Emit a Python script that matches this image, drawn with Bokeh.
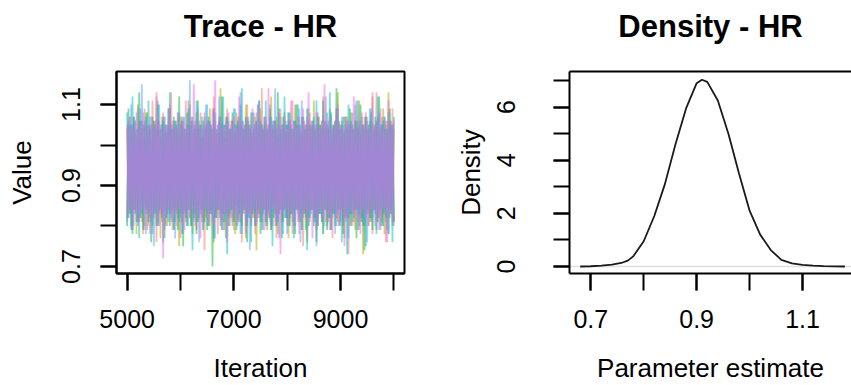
from bokeh.plotting import figure
from bokeh.layouts import row
from bokeh.models import FixedTicker, LinearAxis, Span, Range1d, Title
from bokeh.embed import file_html
from bokeh.resources import INLINE

# ---------------- data ----------------
iterations = list(range(5000, 10001, 25))

chain_1 = [
    0.82, 1.05, 0.84, 1.03, 0.79, 1.07, 0.83, 1.02, 0.81, 1.06, 0.85, 1.04, 0.78, 1.09, 0.83, 1.03, 0.80, 1.05, 0.84, 1.11,
    0.82, 1.04, 0.76, 1.06, 0.83, 1.02, 0.81, 1.08, 0.85, 1.03, 0.80, 1.05, 0.83, 1.13, 0.79, 1.04, 0.84, 1.06, 0.82, 1.02,
    0.77, 1.07, 0.83, 1.04, 0.81, 1.05, 0.84, 1.10, 0.80, 1.03, 0.82, 1.06, 0.79, 1.04, 0.85, 1.08, 0.81, 1.02, 0.74, 1.05,
    0.83, 1.06, 0.80, 1.04, 0.84, 1.12, 0.82, 1.03, 0.78, 1.07, 0.83, 1.05, 0.81, 1.02, 0.84, 1.09, 0.80, 1.04, 0.82, 1.06,
    0.79, 1.03, 0.85, 1.07, 0.81, 1.05, 0.76, 1.04, 0.83, 1.10, 0.80, 1.06, 0.84, 1.03, 0.82, 1.05, 0.78, 1.08, 0.83, 1.04,
    0.81, 1.14, 0.84, 1.05, 0.80, 1.03, 0.82, 1.07, 0.79, 1.04, 0.85, 1.06, 0.77, 1.02, 0.83, 1.09, 0.81, 1.05, 0.84, 1.03,
    0.80, 1.06, 0.82, 1.11, 0.78, 1.04, 0.84, 1.05, 0.81, 1.07, 0.83, 1.03, 0.75, 1.06, 0.82, 1.04, 0.80, 1.08, 0.84, 1.05,
    0.82, 1.03, 0.79, 1.07, 0.83, 1.05, 0.81, 1.12, 0.84, 1.04, 0.80, 1.06, 0.82, 1.02, 0.77, 1.05, 0.83, 1.09, 0.81, 1.04,
    0.84, 1.06, 0.80, 1.03, 0.82, 1.07, 0.73, 1.05, 0.83, 1.04, 0.81, 1.10, 0.84, 1.06, 0.79, 1.03, 0.82, 1.05, 0.80, 1.08,
    0.83, 1.04, 0.81, 1.06, 0.78, 1.05, 0.84, 1.13, 0.82, 1.03, 0.80, 1.07, 0.83, 1.04, 0.76, 1.06, 0.82, 1.05, 0.84, 1.09,
    0.81]

chain_2 = [
    1.04, 0.83, 1.07, 0.80, 1.05, 0.84, 1.03, 0.78, 1.10, 0.82, 1.06, 0.81, 1.04, 0.85, 1.08, 0.79, 1.05, 0.83, 1.02, 0.80,
    1.06, 0.84, 1.12, 0.81, 1.04, 0.77, 1.07, 0.83, 1.05, 0.80, 1.03, 0.84, 1.09, 0.82, 1.05, 0.79, 1.06, 0.83, 1.04, 0.75,
    1.07, 0.81, 1.05, 0.84, 1.03, 0.80, 1.11, 0.82, 1.06, 0.78, 1.04, 0.83, 1.08, 0.81, 1.05, 0.84, 1.02, 0.79, 1.07, 0.82,
    1.05, 0.80, 1.09, 0.83, 1.04, 0.76, 1.06, 0.82, 1.03, 0.84, 1.14, 0.81, 1.05, 0.79, 1.07, 0.83, 1.04, 0.80, 1.06, 0.84,
    1.03, 0.78, 1.08, 0.82, 1.05, 0.81, 1.06, 0.84, 1.04, 0.77, 1.10, 0.83, 1.05, 0.80, 1.03, 0.82, 1.07, 0.74, 1.05, 0.83,
    1.09, 0.81, 1.04, 0.84, 1.06, 0.79, 1.05, 0.82, 1.12, 0.80, 1.04, 0.83, 1.07, 0.78, 1.05, 0.84, 1.03, 0.81, 1.08, 0.82,
    1.05, 0.77, 1.06, 0.83, 1.04, 0.80, 1.10, 0.84, 1.05, 0.82, 1.03, 0.79, 1.07, 0.83, 1.05, 0.76, 1.06, 0.81, 1.04, 0.84,
    1.11, 0.82, 1.05, 0.80, 1.07, 0.83, 1.04, 0.78, 1.06, 0.84, 1.05, 0.81, 1.09, 0.79, 1.04, 0.83, 1.06, 0.82, 1.13, 0.80,
    1.05, 0.84, 1.03, 0.77, 1.07, 0.82, 1.05, 0.80, 1.08, 0.83, 1.04, 0.79, 1.06, 0.84, 1.11, 0.81, 1.05, 0.73, 1.07, 0.83,
    1.04, 0.80, 1.06, 0.82, 1.12, 0.84, 1.05, 0.79, 1.07, 0.83, 1.04, 0.81, 1.09, 0.78, 1.05, 0.84, 1.13, 0.82, 1.06, 0.80,
    1.04]

chain_3 = [
    0.80, 1.09, 0.83, 1.05, 0.78, 1.07, 0.84, 1.04, 0.81, 1.13, 0.82, 1.06, 0.79, 1.05, 0.84, 1.08, 0.81, 1.04, 0.76, 1.07,
    0.83, 1.05, 0.80, 1.10, 0.84, 1.04, 0.82, 1.06, 0.77, 1.05, 0.83, 1.09, 0.80, 1.04, 0.84, 1.07, 0.81, 1.05, 0.79, 1.12,
    0.83, 1.06, 0.75, 1.04, 0.82, 1.08, 0.84, 1.05, 0.80, 1.07, 0.83, 1.04, 0.78, 1.11, 0.82, 1.05, 0.84, 1.06, 0.81, 1.04,
    0.79, 1.07, 0.83, 1.05, 0.70, 1.09, 0.82, 1.04, 0.84, 1.06, 0.80, 1.12, 0.83, 1.05, 0.77, 1.07, 0.82, 1.04, 0.84, 1.08,
    0.81, 1.05, 0.79, 1.06, 0.83, 1.10, 0.80, 1.04, 0.84, 1.07, 0.76, 1.05, 0.82, 1.08, 0.83, 1.04, 0.80, 1.06, 0.84, 1.11,
    0.78, 1.05, 0.83, 1.07, 0.81, 1.04, 0.84, 1.09, 0.79, 1.05, 0.82, 1.06, 0.80, 1.13, 0.83, 1.04, 0.77, 1.07, 0.84, 1.05,
    0.82, 1.08, 0.80, 1.04, 0.83, 1.06, 0.78, 1.10, 0.84, 1.05, 0.81, 1.07, 0.83, 1.04, 0.79, 1.09, 0.82, 1.05, 0.84, 1.06,
    0.80, 1.04, 0.76, 1.07, 0.83, 1.05, 0.81, 1.11, 0.84, 1.06, 0.79, 1.04, 0.82, 1.08, 0.83, 1.05, 0.80, 1.14, 0.84, 1.06,
    0.81, 1.05, 0.78, 1.07, 0.83, 1.04, 0.82, 1.09, 0.80, 1.05, 0.84, 1.06, 0.77, 1.04, 0.83, 1.10, 0.81, 1.05, 0.74, 1.07,
    0.84, 1.05, 0.82, 1.08, 0.79, 1.04, 0.83, 1.06, 0.81, 1.12, 0.84, 1.05, 0.80, 1.07, 0.82, 1.04, 0.78, 1.09, 0.83, 1.05,
    0.81]

chain_4 = [
    1.08, 0.82, 1.05, 0.79, 1.12, 0.84, 1.06, 0.81, 1.04, 0.77, 1.09, 0.83, 1.05, 0.80, 1.07, 0.84, 1.11, 0.82, 1.05, 0.78,
    1.06, 0.83, 1.04, 0.80, 1.10, 0.84, 1.05, 0.76, 1.07, 0.82, 1.05, 0.81, 1.13, 0.83, 1.04, 0.79, 1.06, 0.84, 1.08, 0.81,
    1.05, 0.78, 1.07, 0.83, 1.04, 0.80, 1.09, 0.84, 1.06, 0.74, 1.05, 0.82, 1.11, 0.81, 1.04, 0.83, 1.07, 0.79, 1.05, 0.84,
    1.10, 0.80, 1.06, 0.83, 1.04, 0.77, 1.08, 0.82, 1.05, 0.84, 1.07, 0.79, 1.12, 0.81, 1.05, 0.73, 1.06, 0.83, 1.04, 0.80,
    1.09, 0.84, 1.05, 0.81, 1.07, 0.78, 1.14, 0.83, 1.05, 0.80, 1.06, 0.82, 1.04, 0.76, 1.08, 0.84, 1.05, 0.81, 1.10, 0.83,
    1.06, 0.79, 1.04, 0.84, 1.11, 0.80, 1.05, 0.82, 1.07, 0.75, 1.06, 0.83, 1.04, 0.81, 1.09, 0.84, 1.05, 0.78, 1.12, 0.82,
    1.05, 0.80, 1.08, 0.83, 1.04, 0.77, 1.06, 0.84, 1.10, 0.81, 1.05, 0.79, 1.07, 0.83, 1.04, 0.74, 1.09, 0.82, 1.05, 0.84,
    1.07, 0.81, 1.11, 0.80, 1.05, 0.83, 1.06, 0.78, 1.04, 0.84, 1.08, 0.82, 1.13, 0.79, 1.05, 0.83, 1.06, 0.80, 1.09, 0.84,
    1.04, 0.76, 1.07, 0.82, 1.05, 0.73, 1.10, 0.83, 1.06, 0.81, 1.04, 0.84, 1.11, 0.79, 1.05, 0.82, 1.07, 0.80, 1.04, 0.75,
    1.06, 0.83, 1.09, 0.81, 1.05, 0.84, 1.07, 0.78, 1.12, 0.82, 1.05, 0.80, 1.06, 0.83, 1.04, 0.79, 1.08, 0.84, 1.05, 0.76,
    1.07]

chain_5 = [
    0.81, 1.06, 0.84, 1.10, 0.79, 1.05, 0.83, 1.08, 0.80, 1.04, 0.82, 1.15, 0.84, 1.06, 0.78, 1.05, 0.83, 1.07, 0.81, 1.04,
    0.75, 1.06, 0.83, 1.11, 0.80, 1.05, 0.84, 1.07, 0.79, 1.04, 0.82, 1.09, 0.83, 1.05, 0.81, 1.06, 0.77, 1.04, 0.84, 1.08,
    0.82, 1.05, 0.78, 1.07, 0.83, 1.04, 0.80, 1.16, 0.84, 1.06, 0.81, 1.05, 0.83, 1.09, 0.76, 1.05, 0.82, 1.04, 0.84, 1.10,
    0.80, 1.06, 0.83, 1.05, 0.81, 1.08, 0.77, 1.04, 0.84, 1.12, 0.82, 1.06, 0.79, 1.05, 0.83, 1.07, 0.80, 1.04, 0.84, 1.06,
    0.82, 1.09, 0.80, 1.05, 0.83, 1.13, 0.78, 1.06, 0.84, 1.04, 0.81, 1.07, 0.74, 1.05, 0.83, 1.08, 0.80, 1.06, 0.82, 1.11,
    0.84, 1.05, 0.79, 1.07, 0.82, 1.04, 0.83, 1.10, 0.80, 1.06, 0.84, 1.14, 0.81, 1.05, 0.77, 1.07, 0.83, 1.04, 0.82, 1.06,
    0.78, 1.08, 0.84, 1.05, 0.81, 1.06, 0.80, 1.04, 0.83, 1.09, 0.76, 1.11, 0.82, 1.05, 0.84, 1.07, 0.80, 1.04, 0.83, 1.06,
    0.81, 1.05, 0.75, 1.08, 0.83, 1.04, 0.82, 1.06, 0.80, 1.12, 0.84, 1.05, 0.79, 1.07, 0.82, 1.04, 0.78, 1.09, 0.83, 1.05,
    0.80, 1.07, 0.84, 1.04, 0.81, 1.06, 0.77, 1.05, 0.83, 1.08, 0.82, 1.04, 0.84, 1.11, 0.80, 1.06, 0.83, 1.05, 0.81, 1.07,
    0.76, 1.05, 0.84, 1.09, 0.82, 1.04, 0.80, 1.06, 0.83, 1.08, 0.79, 1.05, 0.84, 1.07, 0.81, 1.04, 0.78, 1.06, 0.83, 1.05,
    0.80]

chain_6 = [
    1.05, 0.82, 1.07, 0.84, 1.04, 0.80, 1.06, 0.83, 1.09, 0.81, 1.05, 0.84, 1.08, 0.79, 1.06, 0.83, 1.04, 0.78, 1.07, 0.82,
    1.05, 0.84, 1.13, 0.80, 1.06, 0.83, 1.04, 0.72, 1.07, 0.82, 1.05, 0.84, 1.10, 0.81, 1.06, 0.83, 1.04, 0.80, 1.08, 0.84,
    1.05, 0.81, 1.06, 0.79, 1.11, 0.83, 1.04, 0.82, 1.07, 0.84, 1.15, 0.80, 1.05, 0.83, 1.06, 0.77, 1.04, 0.82, 1.08, 0.84,
    1.06, 0.81, 1.05, 0.83, 1.09, 0.80, 1.16, 0.84, 1.05, 0.82, 1.07, 0.79, 1.04, 0.83, 1.06, 0.76, 1.08, 0.84, 1.05, 0.81,
    1.07, 0.83, 1.04, 0.80, 1.12, 0.82, 1.06, 0.84, 1.05, 0.78, 1.07, 0.83, 1.04, 0.81, 1.09, 0.84, 1.05, 0.80, 1.10, 0.82,
    1.06, 0.84, 1.04, 0.79, 1.07, 0.83, 1.14, 0.81, 1.05, 0.84, 1.06, 0.80, 1.04, 0.82, 1.08, 0.73, 1.05, 0.83, 1.07, 0.84,
    1.04, 0.81, 1.06, 0.83, 1.11, 0.80, 1.05, 0.84, 1.07, 0.78, 1.04, 0.82, 1.09, 0.83, 1.05, 0.81, 1.13, 0.84, 1.06, 0.77,
    1.05, 0.83, 1.08, 0.80, 1.04, 0.84, 1.06, 0.82, 1.15, 0.81, 1.05, 0.83, 1.07, 0.79, 1.04, 0.84, 1.06, 0.82, 1.10, 0.80,
    1.05, 0.83, 1.04, 0.75, 1.07, 0.82, 1.06, 0.84, 1.05, 0.80, 1.12, 0.83, 1.04, 0.81, 1.06, 0.78, 1.08, 0.84, 1.05, 0.82,
    1.07, 0.80, 1.04, 0.83, 1.13, 0.84, 1.05, 0.81, 1.06, 0.79, 1.09, 0.82, 1.04, 0.84, 1.06, 0.76, 1.11, 0.83, 1.05, 0.81,
    1.06]

chains = [chain_1, chain_2, chain_3, chain_4, chain_5, chain_6]
chain_colors = ["#F8766D", "#B79F00", "#00BA38", "#00BFC4", "#619CFF", "#F564E3"]

density_x = [0.68, 0.70, 0.72, 0.74, 0.76, 0.77, 0.78, 0.80, 0.82, 0.84, 0.86, 0.88, 0.90, 0.91,
             0.92, 0.94, 0.96, 0.98, 1.00, 1.02, 1.04, 1.06, 1.08, 1.10, 1.12, 1.14, 1.16, 1.18]
density_y = [0.00, 0.01, 0.03, 0.07, 0.15, 0.22, 0.38, 0.95, 1.90, 3.10, 4.60, 5.95, 6.90, 7.03,
             6.95, 6.25, 5.00, 3.50, 2.10, 1.20, 0.62, 0.25, 0.12, 0.06, 0.03, 0.015, 0.005, 0.00]

trace_xticks = [5000, 6000, 7000, 8000, 9000, 10000]
trace_xlabels = [5000, 7000, 9000]
trace_yticks = [0.7, 0.8, 0.9, 1.0, 1.1]
trace_ylabels = [0.7, 0.9, 1.1]
dens_xticks = [0.7, 0.8, 0.9, 1.0, 1.1]
dens_xlabels = [0.7, 0.9, 1.1]
dens_yticks = [0, 1, 2, 3, 4, 5, 6, 7]
dens_ylabels = [0, 2, 4, 6]

FONT = "Liberation Sans"
TICK_FS = "25px"
LABEL_FS = "26px"


def style_axis(ax, label, tick_len, label_standoff, title_standoff, vertical=False):
    ax.axis_label = label
    ax.axis_label_text_font = FONT
    ax.axis_label_text_font_size = LABEL_FS
    ax.axis_label_text_font_style = "normal"
    ax.axis_label_text_color = "black"
    ax.major_label_text_font = FONT
    ax.major_label_text_font_size = TICK_FS
    ax.major_label_text_color = "black"
    ax.axis_line_color = "black"
    ax.axis_line_width = 2
    ax.major_tick_line_color = "black"
    ax.major_tick_line_width = 2
    ax.minor_tick_line_color = "black"
    ax.minor_tick_line_width = 2
    ax.major_tick_in = 0
    ax.major_tick_out = tick_len
    ax.minor_tick_in = 0
    ax.minor_tick_out = tick_len
    ax.major_label_standoff = label_standoff
    ax.axis_label_standoff = title_standoff
    if vertical:
        ax.major_label_orientation = "vertical"


def add_top(p, text, border_color, mid):
    # top spacer axis: one invisible tick whose length keeps the title
    # well above the frame, as in R's layout
    spacer = LinearAxis(ticker=FixedTicker(ticks=[mid], minor_ticks=[]),
                        axis_line_color=border_color, axis_line_width=2,
                        major_tick_line_color=None,
                        major_tick_in=0, major_tick_out=28, minor_tick_in=0, minor_tick_out=0,
                        major_label_standoff=0, major_label_text_color=None)
    p.add_layout(spacer, "above")
    p.add_layout(Title(text=text, align="center", vertical_align="bottom", standoff=0,
                       text_font=FONT, text_font_size="31px", text_font_style="bold",
                       text_color="black"), "above")


# ---------------- trace panel ----------------
p1 = figure(width=430, height=385,
            x_range=Range1d(4800, 10200), y_range=Range1d(0.6827, 1.1815),
            output_backend="svg", toolbar_location=None, title_location=None,
            min_border_left=116, min_border_right=26,
            min_border_top=71, min_border_bottom=112)
p1.grid.visible = False
p1.outline_line_color = "black"
p1.outline_line_width = 2
add_top(p1, "Trace - HR", None, 7500)

for vals, col in zip(chains, chain_colors):
    p1.line(iterations[:len(vals)], vals, line_color=col, line_alpha=0.5, line_width=1.8)

p1.below[0].ticker = FixedTicker(ticks=trace_xlabels, minor_ticks=trace_xticks)
p1.left[0].ticker = FixedTicker(ticks=trace_ylabels, minor_ticks=trace_yticks)
style_axis(p1.below[0], "Iteration", 17, 19, 22)
style_axis(p1.left[0], "Value", 16, 20, 23, vertical=True)

# ---------------- density panel ----------------
p2 = figure(width=421, height=385,
            x_range=Range1d(0.6598, 1.1925), y_range=Range1d(-0.263, 7.339),
            output_backend="svg", toolbar_location=None, title_location=None,
            min_border_left=139, min_border_right=0,
            min_border_top=71, min_border_bottom=112)
p2.grid.visible = False
p2.outline_line_color = None
add_top(p2, "Density - HR", "black", 0.93)

p2.below[0].ticker = FixedTicker(ticks=dens_xlabels, minor_ticks=dens_xticks)
p2.left[0].ticker = FixedTicker(ticks=dens_ylabels, minor_ticks=dens_yticks)
style_axis(p2.below[0], "Parameter estimate", 17, 19, 22)
style_axis(p2.left[0], "Density", 16, 38, 9, vertical=True)

p2.add_layout(Span(location=0, dimension="width", line_color="#E0E0E0", line_width=1.5, level="underlay"))
p2.line(density_x, density_y, line_color="#1a1a1a", line_width=1.8)

layout = row(p1, p2)
open("out.html", "w").write(file_html(layout, INLINE))
